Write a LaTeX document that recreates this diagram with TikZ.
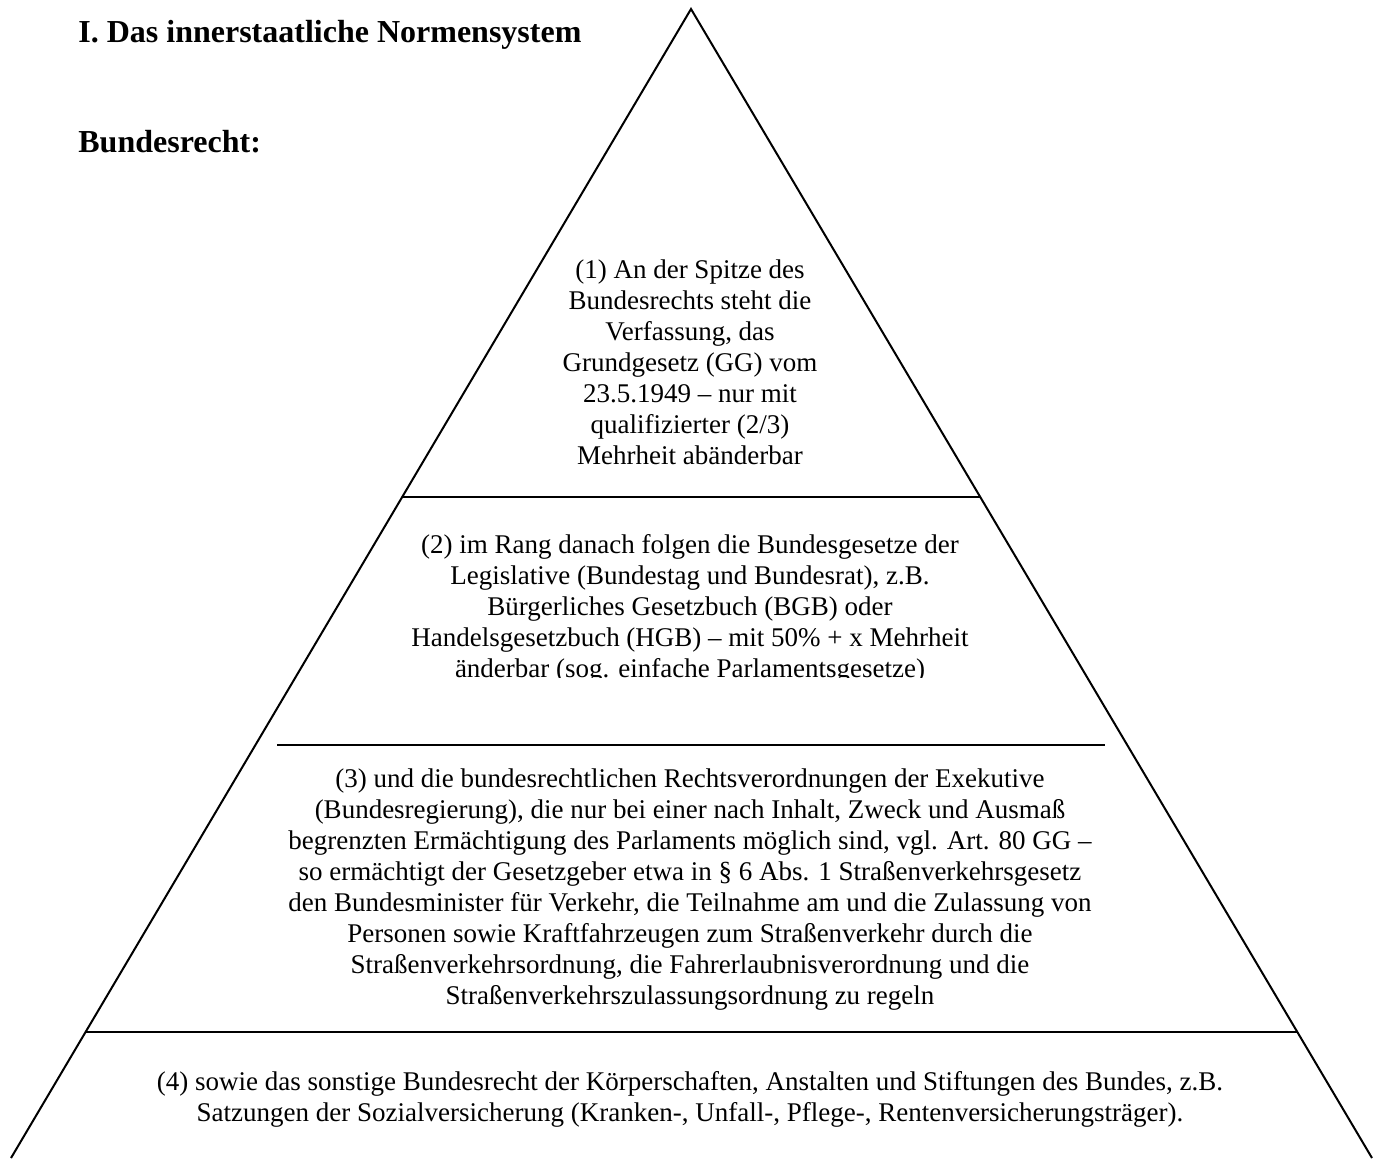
\documentclass[tikz,border=0pt]{standalone}
\usepackage{fontspec}
\setmainfont{Liberation Serif}
\usetikzlibrary{calc}
\begin{document}
\begin{tikzpicture}[x=0.5pt,y=-0.5pt,
  body/.style={align=center, font=\fontsize{13.5}{15.5}\selectfont, inner sep=0pt},
  head/.style={anchor=base west, font=\fontsize{16}{18}\selectfont\bfseries, inner sep=0pt},
  rulestyle/.style={line width=1pt},
  side/.style={line width=1pt}]
\useasboundingbox (0,0) rectangle (1379,1158);
\coordinate (apex) at (691,9);
\coordinate (bl) at (11,1158);
\coordinate (br) at (1372,1158);
\draw[side] (bl) -- (apex) -- (br);
% separators
\coordinate (l1a) at ($(apex)!0.4247!(bl)$);
\coordinate (l1b) at ($(apex)!0.4247!(br)$);
\coordinate (l2a) at (277,745);
\coordinate (l2b) at (1105,745);
\coordinate (l3a) at ($(apex)!0.8903!(bl)$);
\coordinate (l3b) at ($(apex)!0.8903!(br)$);
\draw[rulestyle] (l1a) -- (l1b);
\draw[rulestyle] (l2a) -- (l2b);
\draw[rulestyle] (l3a) -- (l3b);
% headings
\node[head] (title) at (78,42) {I. Das innerstaatliche Normensystem};
\node[head] (bund) at (78,152) {Bundesrecht:};
% texts
\node[body] (t1) at (690,362) {(1) An der Spitze des\\Bundesrechts steht die\\Verfassung, das\\Grundgesetz (GG) vom\\23.5.1949 -- nur mit\\qualifizierter (2/3)\\Mehrheit abänderbar};
\begin{scope}
\clip (0,505) rectangle (1379,677);
\node[body] (t2) at (690,609) {(2) im Rang danach folgen die Bundesgesetze der\\Legislative (Bundestag und Bundesrat), z.B.\\Bürgerliches Gesetzbuch (BGB) oder\\Handelsgesetzbuch (HGB) -- mit 50\% + x Mehrheit\\änderbar (sog. einfache Parlamentsgesetze)};
\end{scope}
\node[body] (t3) at (690,890) {(3) und die bundesrechtlichen Rechtsverordnungen der Exekutive\\(Bundesregierung), die nur bei einer nach Inhalt, Zweck und Ausmaß\\begrenzten Ermächtigung des Parlaments möglich sind, vgl. Art. 80 GG --\\so ermächtigt der Gesetzgeber etwa in § 6 Abs. 1 Straßenverkehrsgesetz\\den Bundesminister für Verkehr, die Teilnahme am und die Zulassung von\\Personen sowie Kraftfahrzeugen zum Straßenverkehr durch die\\Straßenverkehrsordnung, die Fahrerlaubnisverordnung und die\\Straßenverkehrszulassungsordnung zu regeln};
\node[body] (t4) at (690,1099) {(4) sowie das sonstige Bundesrecht der Körperschaften, Anstalten und Stiftungen des Bundes, z.B.\\Satzungen der Sozialversicherung (Kranken-, Unfall-, Pflege-, Rentenversicherungsträger).};
\end{tikzpicture}
\end{document}
